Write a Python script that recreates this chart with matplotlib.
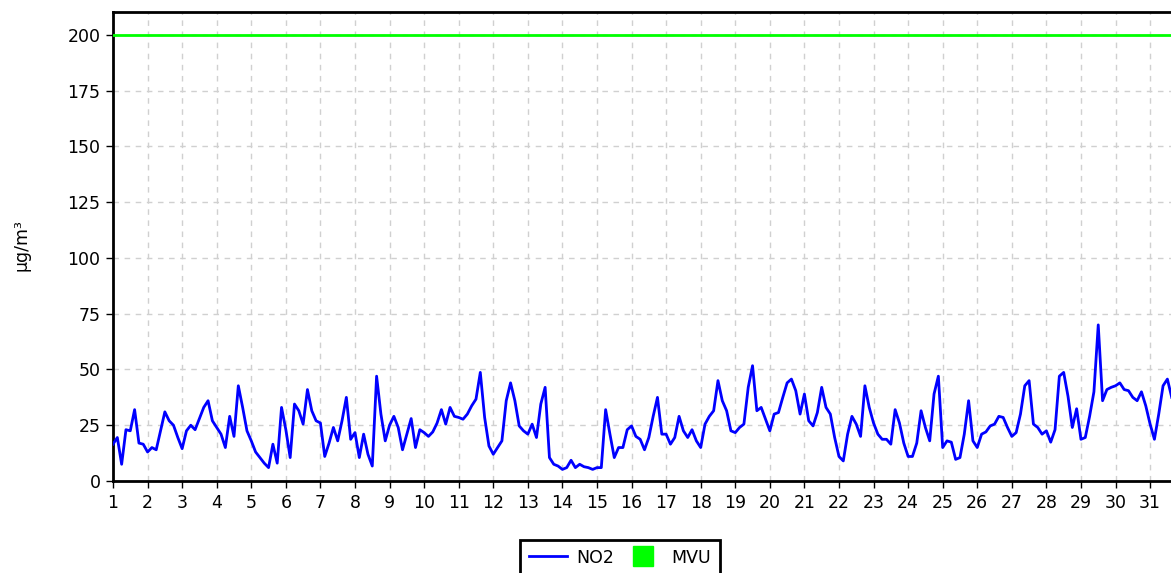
import matplotlib
matplotlib.use("Agg")
import matplotlib.pyplot as plt
from matplotlib.lines import Line2D
import numpy as np

# NO2 concentration, 3-hour steps starting on day 1
no2_by_day = [
    [16.5, 19.5, 7.5, 23, 22.5, 32, 17, 16.5],
    [13, 15, 14, 22.5, 31, 27, 25, 19.5],
    [14.5, 22.5, 25, 23, 28, 33, 36, 27],
    [24, 21, 15, 29, 20, 42.7, 33, 22.5],
    [18, 13, 10.5, 8, 6, 16.5, 8, 33],
    [23, 10.5, 34.5, 31.5, 25.5, 41, 31.5, 27],
    [26, 11, 17, 24, 18, 27, 37.5, 18.7],
    [21.7, 10.5, 21, 12, 6.7, 47, 30, 18],
    [25, 29, 24, 14, 21, 28, 15, 23],
    [21.7, 20, 22, 26, 32, 25.5, 33, 29],
    [28.5, 27.7, 30, 33.7, 36.7, 48.7, 28.5, 15.7],
    [12, 15, 18, 36, 44, 36, 24.7, 22.5],
    [21, 25.5, 19.5, 34.5, 42, 10.5, 7.5, 6.7],
    [5.2, 6, 9.3, 6, 7.5, 6.4, 6, 5.2],
    [6, 6, 32, 21, 10.5, 15, 15, 23],
    [24.7, 20, 18.7, 14, 19.5, 29, 37.5, 21],
    [21, 16.5, 19.5, 29, 22.5, 19.5, 23, 18],
    [15, 25.5, 29, 31.5, 45, 36, 31.5, 22.5],
    [21.7, 24, 25.5, 42, 51.7, 31.5, 33, 27.7],
    [22.5, 30, 30.7, 37.5, 44, 45.7, 40.5, 30],
    [39, 27, 24.7, 30.7, 42, 33, 30, 19.5],
    [11, 9, 21, 29, 25.5, 20, 42.7, 33],
    [26, 21, 18.7, 18.7, 16.5, 32, 26, 17],
    [11, 11, 17, 31.5, 24, 18, 39, 47],
    [15, 18, 17.4, 9.7, 10.5, 21, 36, 18],
    [15, 21, 22, 24.7, 25.5, 29, 28.5, 24],
    [20, 21.7, 30, 42.7, 45, 25.5, 24, 21],
    [22.5, 17.4, 23, 47, 48.7, 38, 24, 32.4],
    [18.7, 19.5, 29, 40, 70, 36, 41, 42],
    [42.7, 44, 41, 40.5, 37.5, 36, 40, 33.7],
    [25.5, 18.7, 30, 42.7, 45.7, 37.5],
]
mvu_limit = 200
day_ticks = list(range(1, 32))
y_ticks = [0, 25, 50, 75, 100, 125, 150, 175, 200]
y_label = "µg/m³"
series_names = ["NO2", "MVU"]

no2 = np.array([v for day in no2_by_day for v in day])
t = 1 + np.arange(len(no2)) / 8.0

W, H = 1171, 573
fig = plt.figure(figsize=(W / 100, H / 100), dpi=100)
x0, x1 = 113, 113 + 31 * 34.57
y_top, y_bot = 12, 481
ax = fig.add_axes([x0 / W, (H - y_bot) / H, (x1 - x0) / W, (y_bot - y_top) / H])

ax.plot(t, no2, color="#0000ff", lw=2.0, zorder=3)
ax.axhline(mvu_limit, color="#00ff00", lw=2.0, zorder=3)

ax.set_xlim(1, 32)
ax.set_ylim(0, 210.3)
ax.set_xticks(day_ticks)
ax.set_yticks(y_ticks)
ax.tick_params(direction="out", length=5, width=1, colors="black", labelsize=12.5, pad=4)
ax.grid(True, color="#d0d0d0", linestyle=(0, (4, 4)), lw=1.0)
ax.set_axisbelow(True)
for s in ax.spines.values():
    s.set_linewidth(2)
    s.set_color("black")

fig.text(22 / W, (H - 245) / H, y_label, rotation=90, ha="center", va="center", fontsize=12.5)

handles = [Line2D([], [], color="#0000ff", lw=2),
           Line2D([], [], color="#00ff00", marker="s", markersize=14, linestyle="none")]
leg = fig.legend(handles, series_names, loc="upper center",
                 bbox_to_anchor=(620 / W, (H - 531) / H), ncol=2, frameon=True,
                 fancybox=False, edgecolor="black", framealpha=1.0, fontsize=12.5,
                 handlelength=2.2, handleheight=1.2, columnspacing=0.6,
                 handletextpad=0.5, borderpad=0.5)
leg.get_frame().set_linewidth(2)

fig.savefig("out.png", dpi=100)
